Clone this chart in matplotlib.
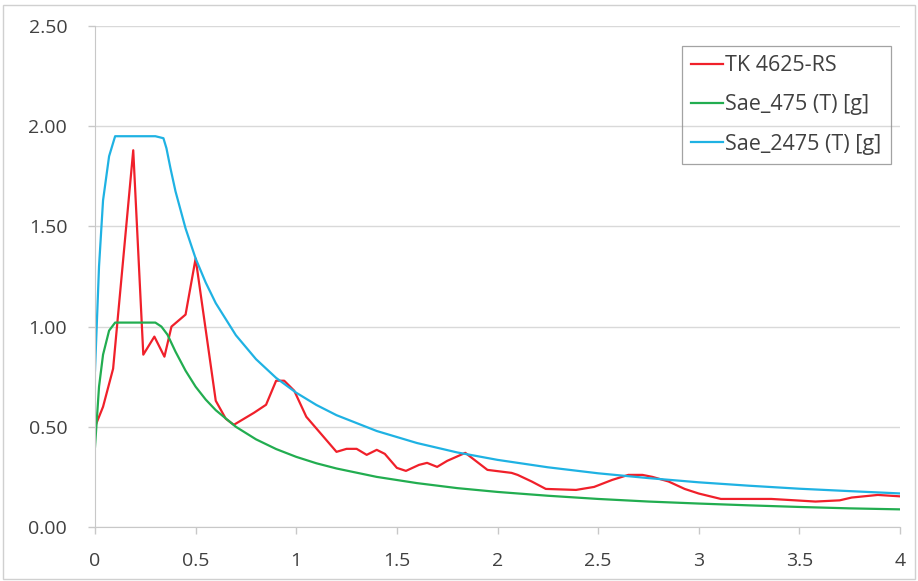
import matplotlib
matplotlib.use("Agg")
import matplotlib.pyplot as plt
from matplotlib.patches import Rectangle

# record TK 4625-RS (period T [s], spectral acc. [g])
t_rec = [0.00, 0.04, 0.09, 0.19, 0.24, 0.295, 0.345, 0.38, 0.45, 0.50,
         0.60, 0.65, 0.69, 0.79, 0.85, 0.90, 0.94, 0.99, 1.05, 1.20,
         1.25, 1.30, 1.35, 1.40, 1.44, 1.50, 1.545, 1.61, 1.65, 1.70,
         1.75, 1.84, 1.95, 2.07, 2.10, 2.17, 2.24, 2.39, 2.48, 2.57,
         2.65, 2.72, 2.77, 2.85, 2.93, 3.00, 3.11, 3.26, 3.36, 3.48,
         3.58, 3.70, 3.76, 3.89, 4.00]
sa_rec = [0.50, 0.60, 0.79, 1.88, 0.86, 0.95, 0.85, 1.00, 1.06, 1.34,
          0.63, 0.54, 0.51, 0.57, 0.61, 0.73, 0.73, 0.68, 0.55, 0.375,
          0.39, 0.39, 0.36, 0.385, 0.365, 0.295, 0.28, 0.31, 0.32, 0.30,
          0.33, 0.37, 0.285, 0.27, 0.26, 0.227, 0.19, 0.185, 0.20, 0.235,
          0.26, 0.26, 0.25, 0.227, 0.19, 0.167, 0.14, 0.14, 0.14, 0.133,
          0.127, 0.133, 0.147, 0.16, 0.153]

# design spectra
t_sp = [0.00, 0.02, 0.04, 0.07, 0.10, 0.20, 0.30, 0.33, 0.36, 0.40,
        0.45, 0.50, 0.55, 0.60, 0.70, 0.80, 0.90, 1.00, 1.10, 1.20,
        1.40, 1.60, 1.80, 2.00, 2.25, 2.50, 2.75, 3.00, 3.25, 3.50,
        3.75, 4.00]
sae_475 = [0.40, 0.70, 0.86, 0.98, 1.02, 1.02, 1.02, 1.00, 0.96, 0.875,
           0.78, 0.70, 0.636, 0.583, 0.50, 0.4375, 0.389, 0.35, 0.318, 0.292,
           0.25, 0.219, 0.194, 0.175, 0.156, 0.14, 0.127, 0.117, 0.108, 0.10,
           0.093, 0.088]
t_sp2 = [0.00, 0.02, 0.04, 0.07, 0.10, 0.20, 0.30, 0.34, 0.355, 0.375,
         0.40, 0.45, 0.50, 0.55, 0.60, 0.70, 0.80, 0.90, 1.00, 1.10,
         1.20, 1.40, 1.60, 1.80, 2.00, 2.25, 2.50, 2.75, 3.00, 3.25,
         3.50, 3.75, 4.00]
sae_2475 = [0.78, 1.30, 1.63, 1.85, 1.95, 1.95, 1.95, 1.94, 1.89, 1.79,
            1.675, 1.49, 1.34, 1.22, 1.117, 0.957, 0.8375, 0.744, 0.67, 0.609,
            0.558, 0.479, 0.419, 0.372, 0.335, 0.298, 0.268, 0.244, 0.223, 0.206,
            0.191, 0.179, 0.1675]

x_ticks = [0, 0.5, 1, 1.5, 2, 2.5, 3, 3.5, 4]
x_labels = ["0", "0.5", "1", "1.5", "2", "2.5", "3", "3.5", "4"]
y_ticks = [0.0, 0.5, 1.0, 1.5, 2.0, 2.5]

plt.rcParams['font.family'] = ['Open Sans', 'DejaVu Sans']

W, H = 918, 581
fig = plt.figure(figsize=(W / 100, H / 100), dpi=100)
ax = fig.add_axes([95 / W, 1 - 527 / H, (900 - 95) / W, (527 - 26) / H])

ax.plot(t_rec, sa_rec, color='#f0202a', lw=1.6, label='TK 4625-RS')
ax.plot(t_sp, sae_475, color='#22ad50', lw=1.6, label='Sae_475 (T) [g]')
ax.plot(t_sp2, sae_2475, color='#1fb2e3', lw=1.6, label='Sae_2475 (T) [g]')

ax.set_xlim(0, 4)
ax.set_ylim(0, 2.5)
ax.set_xticks(x_ticks)
ax.set_xticklabels(x_labels)
ax.set_yticks(y_ticks)
ax.set_yticklabels(["%.2f" % v for v in y_ticks])
ax.yaxis.grid(True, color='#d9d9d9', lw=1.0)
ax.set_axisbelow(True)
for s in ['top', 'right']:
    ax.spines[s].set_visible(False)
for s in ['left', 'bottom']:
    ax.spines[s].set_color('#c8c8c8')
ax.tick_params(axis='both', colors='#c8c8c8', labelcolor='#404040',
               labelsize=14, length=5, width=1)
ax.tick_params(axis='x', pad=13)
ax.tick_params(axis='y', pad=15)
ax.margins(0)

leg = ax.legend(loc='upper left', bbox_to_anchor=(682 / W, 1 - 46 / H),
                bbox_transform=fig.transFigure, borderaxespad=0,
                fancybox=False, frameon=True, fontsize=15.5,
                handlelength=1.5, handletextpad=0.1, labelspacing=0.85,
                borderpad=0.42)
leg.get_frame().set_facecolor('none')
leg.get_frame().set_edgecolor('#8c8c8c')
leg.get_frame().set_linewidth(0.9)
for txt in leg.get_texts():
    txt.set_color('#404040')

# chart area border
fig.patches.append(Rectangle((0.003, 0.003), 0.994, 0.988, transform=fig.transFigure,
                             fill=False, edgecolor='#d0d0d0', lw=1))

fig.savefig('out.png', dpi=100)
